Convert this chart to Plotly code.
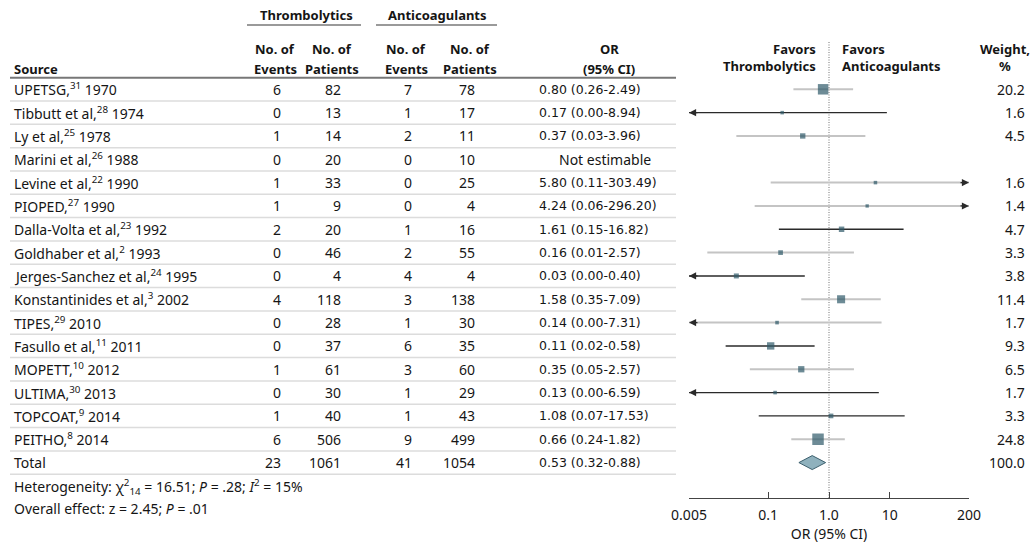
import math
import plotly.graph_objects as go

# ---------------- data ----------------
names = ["UPETSG", "Tibbutt et al", "Ly et al", "Marini et al", "Levine et al", "PIOPED",
         "Dalla-Volta et al", "Goldhaber et al", "Jerges-Sanchez et al", "Konstantinides et al",
         "TIPES", "Fasullo et al", "MOPETT", "ULTIMA", "TOPCOAT", "PEITHO"]
refs = [31, 28, 25, 26, 22, 27, 23, 2, 24, 3, 29, 11, 10, 30, 9, 8]
years = [1970, 1974, 1978, 1988, 1990, 1990, 1992, 1993, 1995, 2002, 2010, 2011, 2012, 2013, 2014, 2014]
thr_events = [6, 0, 1, 0, 1, 1, 2, 0, 0, 4, 0, 0, 1, 0, 1, 6]
thr_patients = [82, 13, 14, 20, 33, 9, 20, 46, 4, 118, 28, 37, 61, 30, 40, 506]
ant_events = [7, 1, 2, 0, 0, 0, 1, 2, 4, 3, 1, 6, 3, 1, 1, 9]
ant_patients = [78, 17, 11, 10, 25, 4, 16, 55, 4, 138, 30, 35, 60, 29, 43, 499]
odds = [0.80, 0.17, 0.37, None, 5.80, 4.24, 1.61, 0.16, 0.03, 1.58, 0.14, 0.11, 0.35, 0.13, 1.08, 0.66]
ci_low = [0.26, 0.00, 0.03, None, 0.11, 0.06, 0.15, 0.01, 0.00, 0.35, 0.00, 0.02, 0.05, 0.00, 0.07, 0.24]
ci_high = [2.49, 8.94, 3.96, None, 303.49, 296.20, 16.82, 2.57, 0.40, 7.09, 7.31, 0.58, 2.57, 6.59, 17.53, 1.82]
weights = [20.2, 1.6, 4.5, None, 1.6, 1.4, 4.7, 3.3, 3.8, 11.4, 1.7, 9.3, 6.5, 1.7, 3.3, 24.8]

total_events_thr, total_patients_thr = 23, 1061
total_events_ant, total_patients_ant = 41, 1054
total_or, total_low, total_high, total_weight = 0.53, 0.32, 0.88, 100.0

tick_vals = [0.005, 0.1, 1, 10, 200]
tick_text = ["0.005", "0.1", "1.0", "10", "200"]

# ---------------- styles ----------------
W, H = 1035, 544
FONT = "Noto Sans"
NUMFONT = "DejaVu Sans"
FS = 14
FSB = 13
TXT = "#151515"
SQ = "#2f5a69"
LIGHT = "#c4c4c4"
DARK = "#2a2a2a"
dark_rows = {1, 6, 8, 11, 13, 14}          # rows whose CI line is drawn dark
XMIN, XMAX = tick_vals[0], tick_vals[-1]
ROW0, ROWH = 89.3, 23.33                    # pixel layout of rows
AX_Y = 498


def yr(py):
    return (py - ROW0) / ROWH


def px(x):
    return x / W


n = len(names)
total_row = n

fig = go.Figure()

# CI lines
for dark in (False, True):
    xs, ys = [], []
    for i in range(n):
        if odds[i] is None or ((i in dark_rows) != dark):
            continue
        xs += [max(ci_low[i], XMIN), min(ci_high[i], XMAX), None]
        ys += [i, i, None]
    fig.add_trace(go.Scatter(x=xs, y=ys, mode="lines", hoverinfo="skip",
                             line=dict(color=DARK if dark else LIGHT, width=1.4 if dark else 2),
                             showlegend=False))

# squares
idx = [i for i in range(n) if odds[i] is not None]
fig.add_trace(go.Scatter(
    x=[odds[i] for i in idx], y=idx, mode="markers", showlegend=False,
    marker=dict(symbol="square", color=SQ, line=dict(width=0),
                size=[2.15 * math.sqrt(weights[i]) + 0.8 for i in idx])))

# diamond for total
dh = 0.3
fig.add_trace(go.Scatter(
    x=[total_low, total_or, total_high, total_or, total_low],
    y=[total_row, total_row - dh, total_row, total_row + dh, total_row],
    mode="lines", fill="toself", fillcolor="#8fb1bd",
    line=dict(color="#3c5f6d", width=1), showlegend=False, hoverinfo="skip"))

ann = []
shapes = []

# arrows for clipped CIs
for i in idx:
    if ci_low[i] < XMIN:
        ann.append(dict(x=math.log10(XMIN), y=i, xref="x", yref="y", ax=10, ay=0, text="",
                        showarrow=True, arrowhead=2, arrowsize=1.1, arrowwidth=1.3, arrowcolor=DARK))
    if ci_high[i] > XMAX:
        ann.append(dict(x=math.log10(XMAX), y=i, xref="x", yref="y", ax=-10, ay=0, text="",
                        showarrow=True, arrowhead=2, arrowsize=1.1, arrowwidth=1.3, arrowcolor=DARK))


def txt(x, y, s, anchor="left", bold=False, size=None, family=FONT):
    if size is None:
        size = FSB if bold else FS
    if bold:
        s = "<b>" + s + "</b>"
    ann.append(dict(x=px(x), y=y, xref="paper", yref="y", text=s, showarrow=False,
                    xanchor=anchor, yanchor="middle", font=dict(family=family, size=size, color=TXT)))


# table rows
for i in range(n):
    txt(12, i, f"{names[i]},<sup>{refs[i]}</sup> {years[i]}")
    txt(283, i, str(thr_events[i]), "right")
    txt(343, i, str(thr_patients[i]), "right")
    txt(414, i, str(ant_events[i]), "right")
    txt(477, i, str(ant_patients[i]), "right")
    if odds[i] is None:
        txt(557, i, "Not estimable")
    else:
        txt(537, i, f"{odds[i]:.2f} ({ci_low[i]:.2f}-{ci_high[i]:.2f})", size=12.5, family=NUMFONT)
        txt(1027, i, f"{weights[i]:.1f}", "right")

txt(12, total_row, "Total")
txt(283, total_row, str(total_events_thr), "right")
txt(343, total_row, str(total_patients_thr), "right")
txt(414, total_row, str(total_events_ant), "right")
txt(477, total_row, str(total_patients_ant), "right")
txt(537, total_row, f"{total_or:.2f} ({total_low:.2f}-{total_high:.2f})", size=12.5, family=NUMFONT)
txt(1027, total_row, f"{total_weight:.1f}", "right")

txt(12, yr(486.5), "Heterogeneity: χ<sup>2</sup><sub>14</sub> = 16.51; <i>P</i> = .28; <i>I</i><sup>2</sup> = 15%")
txt(12, yr(508), "Overall effect: z = 2.45; <i>P</i> = .01")

# headers
txt(306, yr(15), "Thrombolytics", "center", True)
txt(437, yr(15), "Anticoagulants", "center", True)
txt(12, yr(68.5), "Source", "left", True)
for cx in (275, 332, 406, 470):
    txt(cx, yr(48.5), "No. of", "center", True)
for cx, lab in ((275, "Events"), (332, "Patients"), (406, "Events"), (470, "Patients")):
    txt(cx, yr(68.5), lab, "center", True)
txt(609, yr(48.5), "OR", "center", True)
txt(609, yr(68.5), "(95% CI)", "center", True)
txt(818, yr(48.5), "Favors", "right", True)
txt(818, yr(65.5), "Thrombolytics", "right", True)
txt(840, yr(48.5), "Favors", "left", True)
txt(840, yr(65.5), "Anticoagulants", "left", True)
txt(1005, yr(48.5), "Weight,", "center", True)
txt(1005, yr(66), "%", "center", True)

# lines
shapes.append(dict(type="line", xref="paper", yref="y", x0=px(247), x1=px(361), y0=yr(25), y1=yr(25),
                   line=dict(color="#9a9a9a", width=2)))
shapes.append(dict(type="line", xref="paper", yref="y", x0=px(376), x1=px(497), y0=yr(25), y1=yr(25),
                   line=dict(color="#9a9a9a", width=2)))
shapes.append(dict(type="line", xref="paper", yref="y", x0=px(10), x1=px(676), y0=-0.5, y1=-0.5,
                   line=dict(color="#777777", width=2)))
for r in range(total_row + 1):
    shapes.append(dict(type="line", xref="paper", yref="y", x0=px(10), x1=px(676), y0=r + 0.5, y1=r + 0.5,
                       line=dict(color="#dcdcdc", width=1.5)))
# dotted line of no effect (OR = 1, log10 -> 0)
fig.add_trace(go.Scatter(x=[1, 1], y=[yr(42), yr(AX_Y)], mode="lines", hoverinfo="skip", showlegend=False,
                         line=dict(color="#8a8a8a", width=1.2, dash="1px,1.5px")))
# move the reference line to the back
fig.data = (fig.data[-1],) + fig.data[:-1]

fig.update_layout(
    width=W, height=H, margin=dict(l=0, r=0, t=0, b=0),
    paper_bgcolor="white", plot_bgcolor="rgba(0,0,0,0)",
    annotations=ann, shapes=shapes,
    font=dict(family=FONT, size=FS, color=TXT),
    xaxis=dict(type="log", range=[math.log10(XMIN), math.log10(XMAX)],
               domain=[689 / W, 969 / W], anchor="free", position=(H - AX_Y) / H,
               showgrid=False, zeroline=False,
               showline=True, linecolor="#444", linewidth=1.3,
               ticks="inside", ticklen=6, tickcolor="#444", tickwidth=1.3,
               tickvals=tick_vals, ticktext=tick_text, automargin=False,
               ticklabelstandoff=4,
               tickfont=dict(family=FONT, size=FS, color=TXT),
               title=dict(text="OR (95% CI)", standoff=1, font=dict(family=FONT, size=FS, color=TXT))),
    yaxis=dict(visible=False, range=[yr(H), yr(0)], domain=[0, 1], automargin=False),
)

fig.write_html("out.html", config={"displayModeBar": False},
               post_script="document.body.style.margin='0px';")
